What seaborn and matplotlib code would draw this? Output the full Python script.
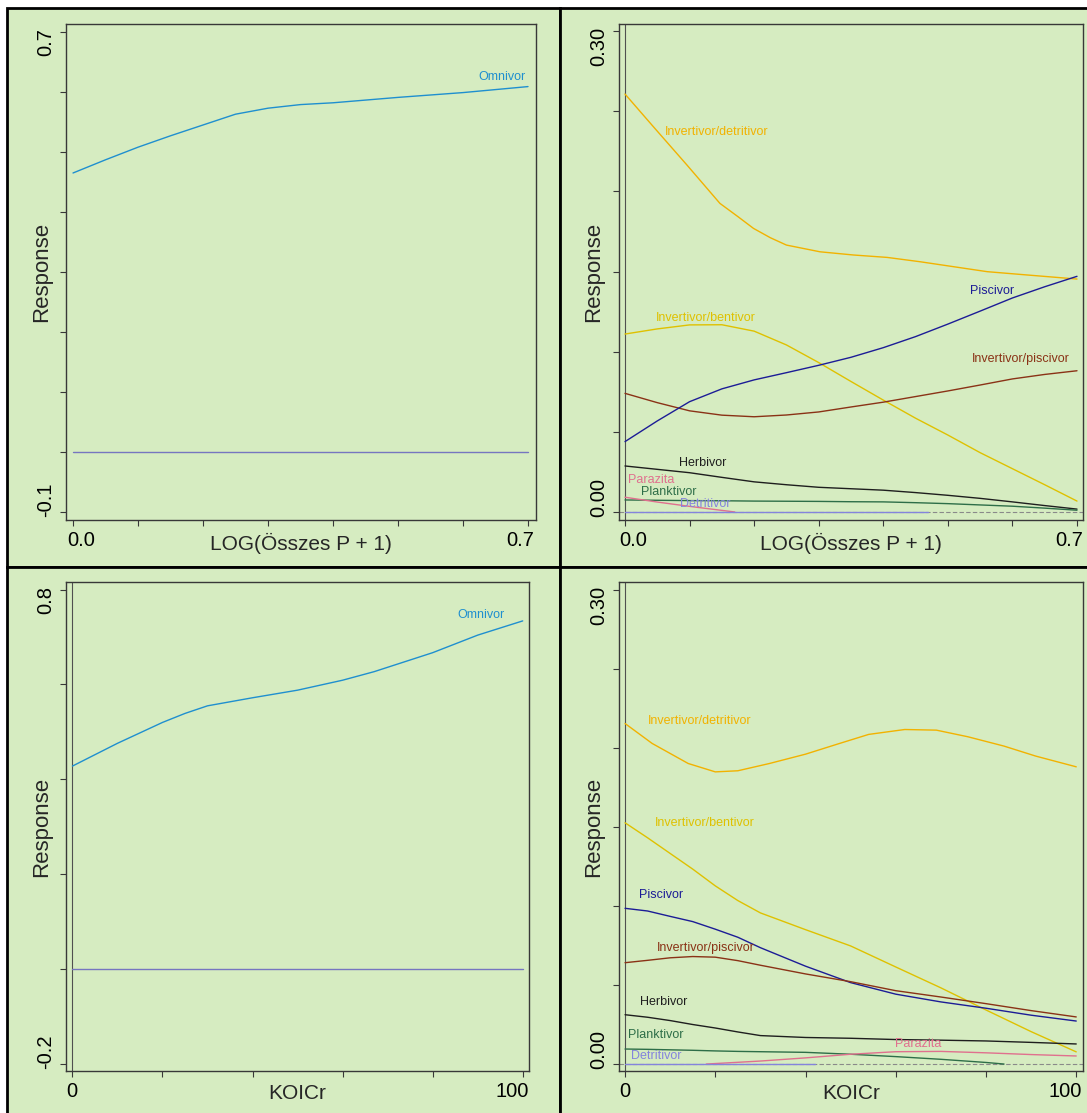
import numpy as np
import pandas as pd
import seaborn as sns
import matplotlib.pyplot as plt
from matplotlib.patches import Rectangle
from matplotlib.transforms import ScaledTranslation

# ---- values ----

# top left : Omnivor vs LOG(Összes P + 1)
p_omni_x = [0.0, 0.05, 0.1, 0.15, 0.2, 0.25, 0.3, 0.35, 0.4, 0.5, 0.6, 0.7]
p_omni_y = [0.465, 0.487, 0.508, 0.527, 0.545, 0.563, 0.573, 0.579, 0.582, 0.591, 0.599, 0.609]
p_rest_x = [0.0, 0.7]
p_rest_y = [0.0, 0.0]

# top right : other guilds vs LOG(Összes P + 1)
p_x = [0.0, 0.05, 0.1, 0.15, 0.2, 0.25, 0.3, 0.35, 0.4, 0.45, 0.5, 0.55, 0.6, 0.65, 0.7]
p_invdet_x = [0.0, 0.044, 0.096, 0.147, 0.175, 0.199, 0.225, 0.25, 0.302, 0.354, 0.406, 0.457, 0.509, 0.561, 0.612, 0.7]
p_invdet_y = [0.2607, 0.2403, 0.2164, 0.1925, 0.1842, 0.1769, 0.1711, 0.1665, 0.1623, 0.1603, 0.1588, 0.1561, 0.153, 0.1499, 0.1482, 0.1453]
p_pisc = [0.0439, 0.0568, 0.0688, 0.0768, 0.0824, 0.0869, 0.0915, 0.0965, 0.1025, 0.1094, 0.1172, 0.1253, 0.1335, 0.1405, 0.147]
p_invben = [0.111, 0.1142, 0.1167, 0.1168, 0.1128, 0.1042, 0.0932, 0.0814, 0.0698, 0.0585, 0.048, 0.037, 0.027, 0.017, 0.0068]
p_invpisc = [0.074, 0.0682, 0.0631, 0.0604, 0.0594, 0.0605, 0.0624, 0.0655, 0.0685, 0.072, 0.0755, 0.0792, 0.083, 0.0858, 0.0881]
p_herb = [0.0287, 0.0266, 0.0245, 0.0216, 0.0188, 0.0170, 0.0154, 0.0145, 0.0136, 0.0121, 0.0104, 0.0085, 0.0063, 0.0040, 0.0018]
p_plank = [0.0075, 0.0073, 0.0071, 0.0070, 0.0068, 0.0067, 0.0066, 0.0064, 0.0063, 0.0058, 0.0052, 0.0044, 0.0036, 0.0024, 0.0011]
p_para_x = [0.0, 0.05, 0.1, 0.15, 0.17]
p_para_y = [0.0092, 0.0062, 0.0035, 0.0010, 0.0]
p_detr_x = [0.0, 0.47]
p_detr_y = [0.0, 0.0]

# bottom left : Omnivor vs KOICr
k_omni_x = [0, 10, 20, 25, 30, 40, 50, 60, 67, 80, 90, 100]
k_omni_y = [0.428, 0.476, 0.520, 0.539, 0.555, 0.572, 0.588, 0.609, 0.627, 0.667, 0.704, 0.734]
k_rest_x = [0, 100]
k_rest_y = [0.0, 0.0]

# bottom right : other guilds vs KOICr
k_x = [0, 5, 10, 15, 20, 25, 30, 40, 50, 60, 70, 80, 90, 100]
k_invdet_x = [0, 6, 14, 20, 25, 32, 40, 47, 54, 62, 69, 76, 84, 91, 100]
k_invdet_y = [0.2154, 0.2028, 0.1901, 0.1848, 0.1855, 0.1901, 0.196, 0.2023, 0.2085, 0.2116, 0.2112, 0.207, 0.2011, 0.1948, 0.188]
k_invben = [0.1526, 0.1431, 0.1332, 0.1233, 0.1127, 0.1034, 0.0956, 0.085, 0.0747, 0.0614, 0.0482, 0.0342, 0.0205, 0.0077]
k_pisc = [0.0985, 0.0968, 0.0934, 0.0901, 0.0853, 0.0802, 0.0736, 0.0619, 0.0515, 0.0442, 0.0393, 0.0353, 0.0309, 0.0272]
k_invpisc = [0.0641, 0.0656, 0.0672, 0.068, 0.0676, 0.0654, 0.0625, 0.057, 0.0521, 0.0464, 0.0424, 0.0382, 0.0338, 0.0298]
k_herb = [0.0312, 0.0296, 0.0275, 0.0250, 0.0228, 0.0203, 0.0180, 0.0168, 0.0163, 0.0155, 0.0151, 0.0146, 0.0137, 0.0127]
k_plank_x = [0, 5, 10, 15, 20, 25, 30, 40, 50, 60, 70, 80, 84]
k_plank_y = [0.0095, 0.0093, 0.009, 0.0087, 0.0083, 0.008, 0.0078, 0.0074, 0.0062, 0.0047, 0.0030, 0.0010, 0.0]
k_para_x = [18, 25, 30, 40, 50, 60, 70, 80, 90, 100]
k_para_y = [0.0, 0.0011, 0.0019, 0.0039, 0.0062, 0.0078, 0.0080, 0.0071, 0.0060, 0.0051]
k_detr_x = [0, 42]
k_detr_y = [0.0, 0.0]

# ---- look ----
bg = '#d6ecc1'
colors = {
    'Omnivor': '#1f8fcf',
    'rest': '#7676c0',
    'Invertivor/detritivor': '#f2b200',
    'Invertivor/bentivor': '#dfc100',
    'Piscivor': '#1c1c96',
    'Invertivor/piscivor': '#8a3216',
    'Herbivor': '#1e1e1e',
    'Planktivor': '#2e6e48',
    'Parazita': '#e0708e',
    'Detritivor': '#8484dc',
}

sns.set_style('ticks')
plt.rcParams['font.family'] = ['Liberation Sans', 'DejaVu Sans']

W, H = 1087, 1113
fig = plt.figure(figsize=(W / 100, H / 100), dpi=100, facecolor='white')

# cell backgrounds with black borders
for (x0, y0, x1, y1) in [(7, 8, 560, 567), (560, 8, 1100, 567), (7, 567, 560, 1125), (560, 567, 1100, 1125)]:
    fig.add_artist(Rectangle((x0 / W, 1 - y1 / H), (x1 - x0) / W, (y1 - y0) / H,
                             transform=fig.transFigure, facecolor=bg, edgecolor='black',
                             linewidth=2, zorder=-5))


def add_axes(left, top, right, bottom):
    return fig.add_axes([left / W, 1 - bottom / H, (right - left) / W, (bottom - top) / H])


def long_frame(series):
    rows = []
    for name, xs, ys in series:
        for xv, yv in zip(xs, ys):
            rows.append((name, xv, yv))
    return pd.DataFrame(rows, columns=['name', 'x', 'y'])


def draw(ax, series):
    df = long_frame(series)
    order = [s[0] for s in series]
    sns.lineplot(data=df, x='x', y='y', hue='name', hue_order=order, palette=colors,
                 estimator=None, sort=False, legend=False, linewidth=1.0, ax=ax)


def style(ax, xlim, ylim, xticks, xends, yticks, yends, xlabel, ylab_x):
    ax.set_facecolor('none')
    ax.set_xlim(xlim)
    ax.set_ylim(ylim)
    ax.set_xticks(xticks)
    ax.set_xticklabels([xends[0]] + [''] * (len(xticks) - 2) + [xends[1]])
    ax.set_yticks(yticks)
    ax.set_yticklabels([yends[0]] + [''] * (len(yticks) - 2) + [yends[1]])
    for sp in ax.spines.values():
        sp.set_color('#383838')
        sp.set_linewidth(1.0)
    ax.tick_params(direction='out', length=4, width=0.8, color='#383838',
                   labelsize=14.5, pad=4, labelcolor='black')
    ax.tick_params(axis='y', labelrotation=90)
    xl = ax.get_xticklabels()
    xl[0].set_ha('left')
    xl[0].set_transform(xl[0].get_transform() + ScaledTranslation(-0.06, 0, fig.dpi_scale_trans))
    xl[-1].set_ha('right')
    xl[-1].set_transform(xl[-1].get_transform() + ScaledTranslation(0.06, 0, fig.dpi_scale_trans))
    yl = ax.get_yticklabels()
    yl[0].set_va('bottom')
    yl[0].set_transform(yl[0].get_transform() + ScaledTranslation(0, -0.05, fig.dpi_scale_trans))
    yl[-1].set_va('top')
    yl[-1].set_transform(yl[-1].get_transform() + ScaledTranslation(0, 0.04, fig.dpi_scale_trans))
    ax.set_xlabel(xlabel, fontsize=15)
    ax.set_ylabel('Response', fontsize=16)
    ax.xaxis.set_label_coords(0.5, -0.027)
    ax.yaxis.set_label_coords(ylab_x, 0.5)


def label(ax, text, x, y):
    ax.text(x, y, text, color=colors[text], fontsize=9, ha='left', va='center')


# top left
ax1 = add_axes(66, 24, 536, 520)
draw(ax1, [('rest', p_rest_x, p_rest_y), ('Omnivor', p_omni_x, p_omni_y)])
style(ax1, (-0.0108, 0.7123), (-0.1133, 0.7133),
      [0, 0.1, 0.2, 0.3, 0.4, 0.5, 0.6, 0.7], ['0.0', '0.7'],
      [-0.1, 0.0, 0.1, 0.2, 0.3, 0.4, 0.5, 0.6, 0.7], ['-0.1', '0.7'],
      'LOG(Összes P + 1)', -0.03)
label(ax1, 'Omnivor', 0.623, 0.625)

# top right
ax2 = add_axes(619, 24, 1083, 520)
ax2.axhline(0, color='#8a8a8a', lw=0.8, ls=(0, (4, 2)), zorder=1)
ax2.axvline(0, color='#505050', lw=0.8, zorder=1)
draw(ax2, [
    ('Invertivor/detritivor', p_invdet_x, p_invdet_y),
    ('Invertivor/bentivor', p_x, p_invben),
    ('Invertivor/piscivor', p_x, p_invpisc),
    ('Piscivor', p_x, p_pisc),
    ('Herbivor', p_x, p_herb),
    ('Planktivor', p_x, p_plank),
    ('Parazita', p_para_x, p_para_y),
    ('Detritivor', p_detr_x, p_detr_y),
])
style(ax2, (-0.0093, 0.7093), (-0.005, 0.3044),
      [0, 0.1, 0.2, 0.3, 0.4, 0.5, 0.6, 0.7], ['0.0', '0.7'],
      [0, 0.05, 0.1, 0.15, 0.2, 0.25, 0.3], ['0.00', '0.30'],
      'LOG(Összes P + 1)', -0.032)
label(ax2, 'Invertivor/detritivor', 0.062, 0.237)
label(ax2, 'Invertivor/bentivor', 0.048, 0.1213)
label(ax2, 'Piscivor', 0.535, 0.138)
label(ax2, 'Invertivor/piscivor', 0.5375, 0.0952)
label(ax2, 'Herbivor', 0.084, 0.0308)
label(ax2, 'Parazita', 0.005, 0.0197)
label(ax2, 'Planktivor', 0.0245, 0.0122)
label(ax2, 'Detritivor', 0.085, 0.0048)

# bottom left
ax3 = add_axes(66, 582, 529, 1071)
ax3.axvline(0, color='#505050', lw=0.8, zorder=1)
draw(ax3, [('rest', k_rest_x, k_rest_y), ('Omnivor', k_omni_x, k_omni_y)])
style(ax3, (-1.43, 101.4), (-0.2147, 0.816),
      [0, 20, 40, 60, 80, 100], ['0', '100'],
      [-0.2, 0.0, 0.2, 0.4, 0.6, 0.8], ['-0.2', '0.8'],
      'KOICr', -0.03)
label(ax3, 'Omnivor', 85.5, 0.747)

# bottom right
ax4 = add_axes(619, 582, 1083, 1071)
ax4.axhline(0, color='#8a8a8a', lw=0.8, ls=(0, (4, 2)), zorder=1)
ax4.axvline(0, color='#505050', lw=0.8, zorder=1)
draw(ax4, [
    ('Invertivor/detritivor', k_invdet_x, k_invdet_y),
    ('Invertivor/bentivor', k_x, k_invben),
    ('Piscivor', k_x, k_pisc),
    ('Invertivor/piscivor', k_x, k_invpisc),
    ('Herbivor', k_x, k_herb),
    ('Planktivor', k_plank_x, k_plank_y),
    ('Parazita', k_para_x, k_para_y),
    ('Detritivor', k_detr_x, k_detr_y),
])
style(ax4, (-1.34, 101.5), (-0.0044, 0.3049),
      [0, 20, 40, 60, 80, 100], ['0', '100'],
      [0, 0.05, 0.1, 0.15, 0.2, 0.25, 0.3], ['0.00', '0.30'],
      'KOICr', -0.032)
label(ax4, 'Invertivor/detritivor', 5.0, 0.2167)
label(ax4, 'Invertivor/bentivor', 6.7, 0.1526)
label(ax4, 'Piscivor', 3.1, 0.1067)
label(ax4, 'Invertivor/piscivor', 7.1, 0.0731)
label(ax4, 'Herbivor', 3.3, 0.0390)
label(ax4, 'Planktivor', 0.7, 0.0184)
label(ax4, 'Parazita', 59.9, 0.0128)
label(ax4, 'Detritivor', 1.3, 0.0049)

fig.savefig('out.png', dpi=100, facecolor='white')
